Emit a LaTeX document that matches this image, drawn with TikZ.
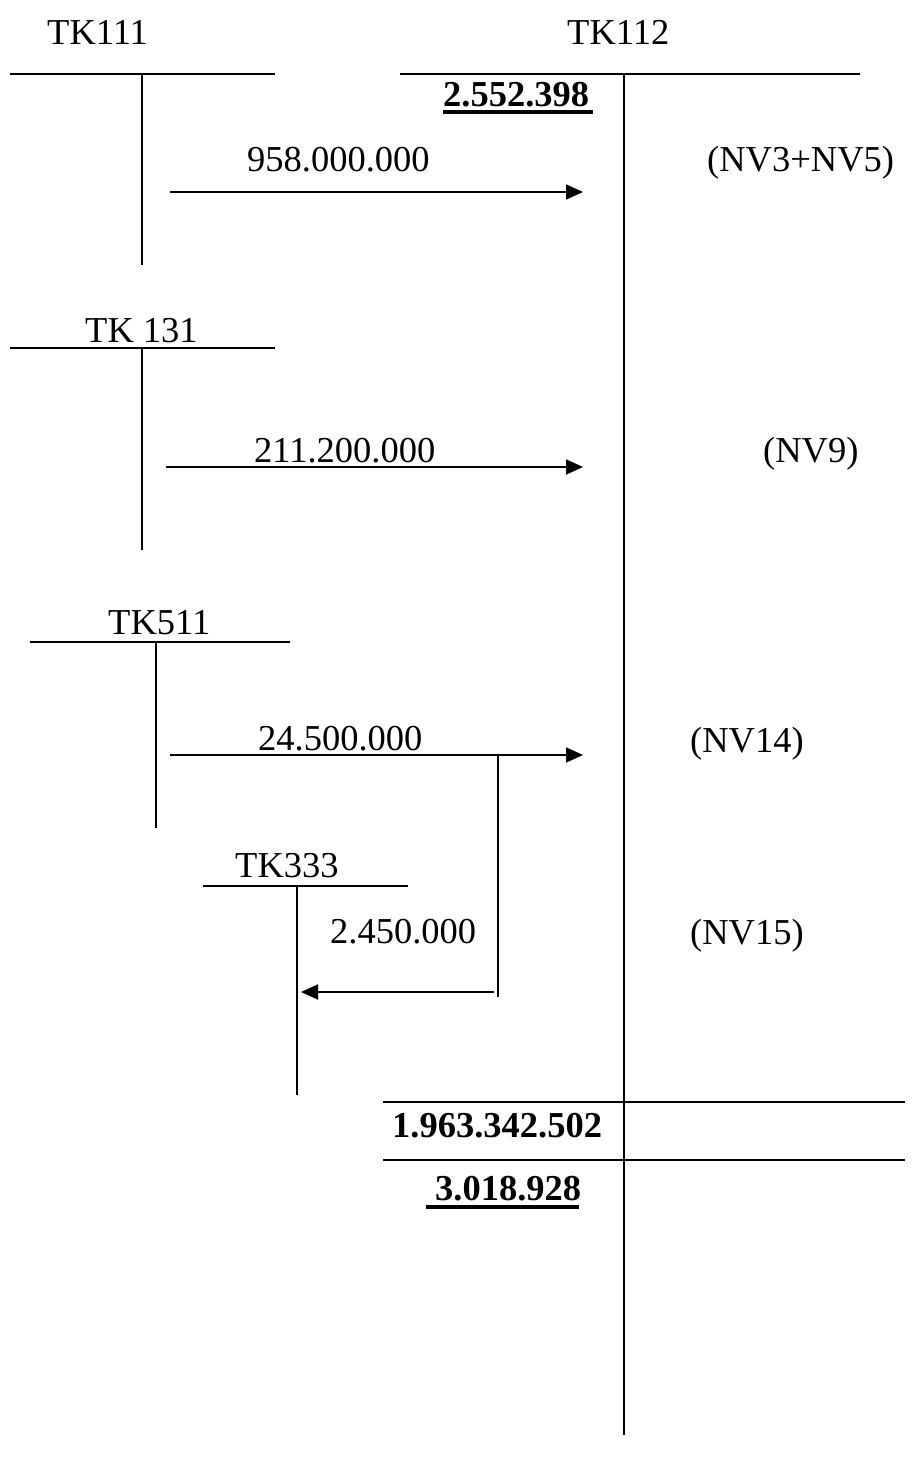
\documentclass[tikz,border=0pt]{standalone}
\usepackage{fontspec}
\setmainfont{Liberation Serif}
\usetikzlibrary{arrows.meta}
\begin{document}
\begin{tikzpicture}[x=1pt,y=-1pt,
  ln/.style={line width=1.8pt},
  arr/.style={line width=1.8pt,-{Triangle[length=17pt,width=15pt]}},
  lbl/.style={anchor=base west,inner sep=0pt,font=\fontsize{36.5}{40}\selectfont},
  blbl/.style={lbl,font=\fontsize{36.5}{40}\selectfont\bfseries},
  ul/.style={line width=3.5pt}]
\useasboundingbox (0,0) rectangle (915,1463);
% labels
\node[lbl] (tk111) at (47,45) {TK111};
\node[lbl] (tk112) at (567,45) {TK112};
\node[blbl] (open) at (443,107) {2.552.398};
\node[lbl] (a1) at (247,172) {958.000.000};
\node[lbl] (n1) at (707,172) {(NV3+NV5)};
\node[lbl] (tk131) at (85,342) {TK 131};
\node[lbl] (a2) at (254,462) {211.200.000};
\node[lbl] (n2) at (763,462) {(NV9)};
\node[lbl] (tk511) at (108,634) {TK511};
\node[lbl] (a3) at (258,750) {24.500.000};
\node[lbl] (n3) at (690,752) {(NV14)};
\node[lbl] (tk333) at (235,877) {TK333};
\node[lbl] (a4) at (330,943) {2.450.000};
\node[lbl] (n4) at (690,944) {(NV15)};
\node[blbl] (tot) at (392,1137) {1.963.342.502};
\node[blbl] (close) at (435,1200) {3.018.928};
% underlines
\coordinate (u1a) at (443,112); \coordinate (u1b) at (593,112);
\coordinate (u2a) at (426,1207); \coordinate (u2b) at (579,1207);
\draw[ul] (u1a) -- (u1b);
\draw[ul] (u2a) -- (u2b);
% TK111
\coordinate (h1a) at (10,74); \coordinate (h1b) at (275,74);
\coordinate (v1a) at (142,74); \coordinate (v1b) at (142,265);
\draw[ln] (h1a) -- (h1b); \draw[ln] (v1a) -- (v1b);
% TK112
\coordinate (h2a) at (400,74); \coordinate (h2b) at (860,74);
\coordinate (v2a) at (624,74); \coordinate (v2b) at (624,1435);
\draw[ln] (h2a) -- (h2b); \draw[ln] (v2a) -- (v2b);
% TK131
\coordinate (h3a) at (10,348); \coordinate (h3b) at (275,348);
\coordinate (v3a) at (142,348); \coordinate (v3b) at (142,550);
\draw[ln] (h3a) -- (h3b); \draw[ln] (v3a) -- (v3b);
% TK511
\coordinate (h4a) at (30,642); \coordinate (h4b) at (290,642);
\coordinate (v4a) at (156,642); \coordinate (v4b) at (156,828);
\draw[ln] (h4a) -- (h4b); \draw[ln] (v4a) -- (v4b);
% TK333
\coordinate (h5a) at (203,886); \coordinate (h5b) at (408,886);
\coordinate (v5a) at (297,886); \coordinate (v5b) at (297,1095);
\draw[ln] (h5a) -- (h5b); \draw[ln] (v5a) -- (v5b);
% branch line
\coordinate (br1) at (498,755); \coordinate (br2) at (498,997);
\draw[ln] (br1) -- (br2);
% closing lines
\coordinate (c1a) at (383,1102); \coordinate (c1b) at (905,1102);
\coordinate (c2a) at (383,1160); \coordinate (c2b) at (905,1160);
\draw[ln] (c1a) -- (c1b); \draw[ln] (c2a) -- (c2b);
% arrows
\coordinate (s1) at (170,192); \coordinate (e1) at (583,192);
\coordinate (s2) at (166,467); \coordinate (e2) at (583,467);
\coordinate (s3) at (170,755); \coordinate (e3) at (583,755);
\coordinate (s4) at (494,992); \coordinate (e4) at (301,992);
\draw[arr] (s1) -- (e1);
\draw[arr] (s2) -- (e2);
\draw[arr] (s3) -- (e3);
\draw[arr] (s4) -- (e4);
\end{tikzpicture}
\end{document}
